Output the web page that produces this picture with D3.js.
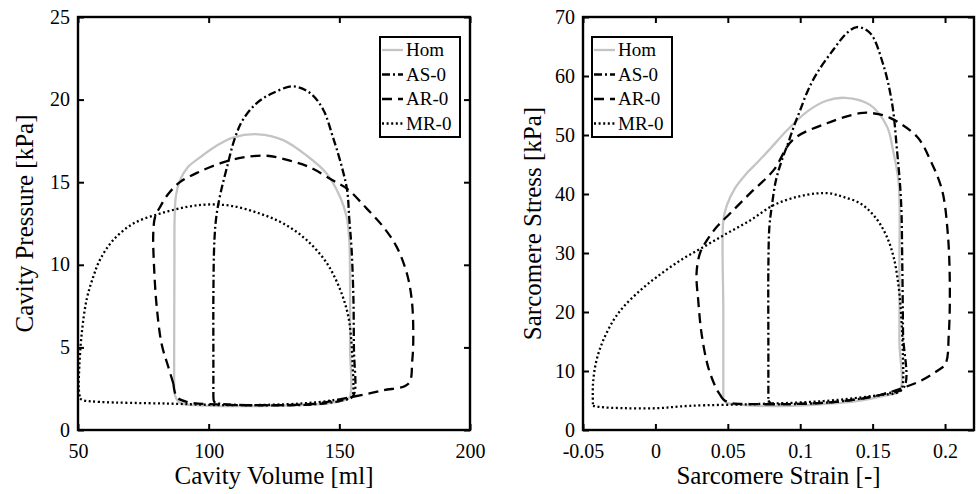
<!DOCTYPE html>
<html><head><meta charset="utf-8">
<script src="https://cdn.jsdelivr.net/npm/d3@7"></script>
<style>
body{margin:0;background:#fff;}
</style></head>
<body><svg id="c" width="976" height="494"></svg>
<script>
// ---------- DATA ----------
const seriesNames = ["Hom", "AS-0", "AR-0", "MR-0"];

// Left panel: cavity volume [ml] / cavity pressure [kPa]
const homV = [86.8,88,90,95,105,120,135,145,152,154,154.1,154.1,153.8,152.8,150.3,145.3,137.6,128.5,118.9,109.3,103,96.7,92,89,87.5,87,86.9,86.8,86.8];
const homP = [2.3,1.8,1.6,1.5,1.45,1.45,1.5,1.6,1.8,2.0,5,9,11.5,12.9,14.1,15.5,16.6,17.55,17.9,17.7,17.2,16.5,15.9,15.1,14.2,13,10,5,2.3];
const asV = [101.8,102.2,104,120,140,150,155,156,155.6,155.4,154.7,153.8,153,151,147.6,143.8,138.8,132.3,124.6,118.5,113.2,110.1,107,104.5,103,102.2,101.8,101.8,101.8];
const asP = [2.1,1.7,1.6,1.5,1.55,1.75,2.0,2.4,4.8,7.9,10.9,12.8,14.5,15.9,17.7,19.4,20.4,20.8,20.4,19.8,18.8,17.7,15.9,14.3,13,11.5,8,5,2.1];
const arV = [86.5,87.8,91.6,103,122.2,141.3,151.5,157.9,166.8,176.4,177.9,178.3,177.7,175.8,171.9,166.8,160.5,153,147.6,138.8,131.1,122.3,113.2,105.5,96,89,84.6,81.4,79.5,78.8,79.1,80.1,82,84.6,86.5];
const arP = [2.8,2.0,1.7,1.55,1.5,1.6,1.9,2.1,2.4,2.8,4.2,5.8,7.9,9.5,11.1,12.3,13.4,14.6,15.1,15.9,16.3,16.6,16.5,16.2,15.6,15.0,14.3,13.5,12.9,11.9,9.9,7.5,5.2,3.8,2.8];
const mrV = [50.8,52,58.4,84,109.4,135,147.7,154.7,155.4,155.1,154.7,153.4,150.3,145.2,137.5,128.6,119.6,109.4,99.9,91.6,81.4,71.2,63.5,58.4,55.9,53.3,51.4,50.5,50.3,50.8];
const mrP = [1.9,1.8,1.7,1.6,1.5,1.6,1.8,2.0,2.8,3.8,5.2,6.9,8.5,10.1,11.5,12.5,13.1,13.55,13.65,13.5,13.1,12.5,11.5,10.3,9.3,7.9,5.8,3.8,2.5,1.9];

// Right panel: sarcomere strain [-] / sarcomere stress [kPa]
const homE = [0.0469,0.049,0.0538,0.07,0.093,0.116,0.1392,0.1576,0.1685,0.1685,0.1685,0.168,0.164,0.16,0.1482,0.131,0.118,0.105,0.0909,0.079,0.071,0.063,0.055,0.0492,0.0469,0.0469,0.0469];
const homS = [5.2,4.6,4.4,4.1,4.1,4.4,4.9,5.8,6.6,15,27.6,41.8,47.5,51.4,55.1,56.3,55.8,54,50.8,47.6,45.5,43.5,41,38,35.5,20,5.2];
const asE = [0.078,0.08,0.093,0.116,0.139,0.1576,0.1715,0.171,0.1705,0.1696,0.1668,0.1634,0.157,0.1482,0.1392,0.1323,0.1227,0.1116,0.1054,0.0998,0.0957,0.0916,0.0874,0.0833,0.0803,0.0787,0.078,0.078,0.078];
const asS = [5,4.5,4.4,4.6,5.2,6.1,7.2,16.3,27.6,38.9,47.5,55.4,62.2,67.3,68.3,67.3,64.4,60.5,57.6,54.1,51.5,48.6,45.8,42.4,37.8,34.4,27.6,15,5];
const arE = [0.0446,0.0469,0.0515,0.0653,0.093,0.116,0.1392,0.1576,0.1715,0.183,0.1945,0.2003,0.2026,0.2033,0.2019,0.198,0.1899,0.1807,0.162,0.15,0.1413,0.1185,0.095,0.0815,0.0653,0.0515,0.0423,0.0354,0.0307,0.0284,0.0296,0.0319,0.0365,0.0423,0.0446];
const arS = [6,5.2,4.6,4.4,4.4,4.6,5.2,6.1,7.2,8.3,10,11.2,16.3,24.8,33.3,40.6,45.7,49.7,52.9,53.7,53.7,52,49.2,44,40.1,36.7,34.4,32.1,29.9,26.5,21.9,16.3,10.6,6.9,6];
const mrE = [-0.0431,-0.0385,-0.0223,0.0008,0.0238,0.07,0.116,0.1507,0.1692,0.1708,0.1708,0.1698,0.168,0.1645,0.1588,0.1507,0.1415,0.1299,0.1207,0.1115,0.0976,0.0815,0.0653,0.0492,0.033,0.0169,0.0008,-0.0108,-0.0223,-0.0292,-0.0362,-0.0408,-0.0431,-0.0431];
const mrS = [4.1,3.9,3.7,3.7,4.1,4.4,4.9,5.8,6.6,7.8,13.4,19.1,24.2,29.3,33.3,36.4,38.4,39.5,40.1,40.1,39.5,38.1,35.5,33.3,31,28.7,25.9,23.6,20.8,18.5,15.1,11.7,7.8,4.1];

const leftXTicks = [50,100,150,200];
const leftYTicks = [0,5,10,15,20,25];
const rightXTicks = [-0.05,0,0.05,0.1,0.15,0.2];
const rightYTicks = [0,10,20,30,40,50,60,70];

// ---------- STYLE ----------
const FONT = "'Liberation Serif'";
const styles = [
  {color:"#c4c4c4", dash:null},
  {color:"#000", dash:"8,3,2,3"},
  {color:"#000", dash:"10,6"},
  {color:"#000", dash:"2,2.6"}
];
const svg = d3.select("#c");

function panel(opt){
  const {x0,x1,y0,y1,xDom,yDom,xTicks,yTicks,xFmt,series,xLabel,yLabel,legX,yLabX} = opt;
  const x = d3.scaleLinear().domain(xDom).range([x0,x1]);
  const y = d3.scaleLinear().domain(yDom).range([y1,y0]);
  const g = svg.append("g");
  const line = d3.line().x(d=>x(d[0])).y(d=>y(d[1])).curve(d3.curveCatmullRom.alpha(0.5));
  series.forEach((s,i)=>{
    const pts = s[0].map((v,j)=>[v,s[1][j]]);
    g.append("path").attr("d",line(pts)).attr("fill","none")
      .attr("stroke",styles[i].color).attr("stroke-width",2.3)
      .attr("stroke-dasharray",styles[i].dash)
      .attr("stroke-linejoin","round");
  });
  const tl = 6;
  const bottom = d3.axisBottom(x).tickValues(xTicks).tickSizeInner(-tl).tickSizeOuter(0).tickPadding(0).tickFormat(xFmt);
  const top = d3.axisTop(x).tickValues(xTicks).tickSizeInner(-tl).tickSizeOuter(0).tickFormat("");
  const left = d3.axisLeft(y).tickValues(yTicks).tickSizeInner(-tl).tickSizeOuter(0).tickPadding(8);
  const right = d3.axisRight(y).tickValues(yTicks).tickSizeInner(-tl).tickSizeOuter(0).tickFormat("");
  const ax = [
    g.append("g").attr("transform",`translate(0,${y1})`).call(bottom),
    g.append("g").attr("transform",`translate(0,${y0})`).call(top),
    g.append("g").attr("transform",`translate(${x0},0)`).call(left),
    g.append("g").attr("transform",`translate(${x1},0)`).call(right)
  ];
  ax.forEach(a=>{
    a.attr("font-family",FONT).attr("font-size",20);
    a.select(".domain").remove();
    a.selectAll("line").attr("stroke","#000").attr("stroke-width",2);
    a.selectAll("text").attr("fill","#000");
  });
  ax[0].selectAll("text").attr("y",28).attr("dy",null);
  ax[2].selectAll("text").attr("dy","0.3em");
  g.append("rect").attr("x",x0).attr("y",y0).attr("width",x1-x0).attr("height",y1-y0)
    .attr("fill","none").attr("stroke","#000").attr("stroke-width",2.4);
  g.append("text").attr("x",(x0+x1)/2).attr("y",484).attr("text-anchor","middle")
    .attr("font-family",FONT).attr("font-size",25).text(xLabel);
  g.append("text").attr("transform",`translate(${yLabX},${(y0+y1)/2}) rotate(-90)`)
    .attr("text-anchor","middle").attr("font-family",FONT).attr("font-size",25).text(yLabel);
  const lg = g.append("g").attr("transform",`translate(${legX},37)`);
  lg.append("rect").attr("width",80).attr("height",100).attr("fill","#fff").attr("stroke","#000").attr("stroke-width",2);
  seriesNames.forEach((n,i)=>{
    const yy = 13 + i*24.5;
    lg.append("line").attr("x1",2).attr("x2",23).attr("y1",yy).attr("y2",yy)
      .attr("stroke",styles[i].color).attr("stroke-width",2.3).attr("stroke-dasharray",styles[i].dash);
    lg.append("text").attr("x",26).attr("y",yy+6).attr("font-family",FONT).attr("font-size",19).text(n);
  });
}

panel({x0:78,x1:470,y0:17,y1:430,xDom:[50,200],yDom:[0,25],xTicks:leftXTicks,yTicks:leftYTicks,
  xFmt:d3.format("d"),
  series:[[homV,homP],[asV,asP],[arV,arP],[mrV,mrP]],
  xLabel:"Cavity Volume [ml]",yLabel:"Cavity Pressure [kPa]",legX:380,yLabX:33});
panel({x0:583,x1:974,y0:17,y1:430,xDom:[-0.05,0.22],yDom:[0,70],xTicks:rightXTicks,yTicks:rightYTicks,
  xFmt:d=>d===0?"0":String(d),
  series:[[homE,homS],[asE,asS],[arE,arS],[mrE,mrS]],
  xLabel:"Sarcomere Strain [-]",yLabel:"Sarcomere Stress [kPa]",legX:592,yLabX:541});
</script></body></html>
